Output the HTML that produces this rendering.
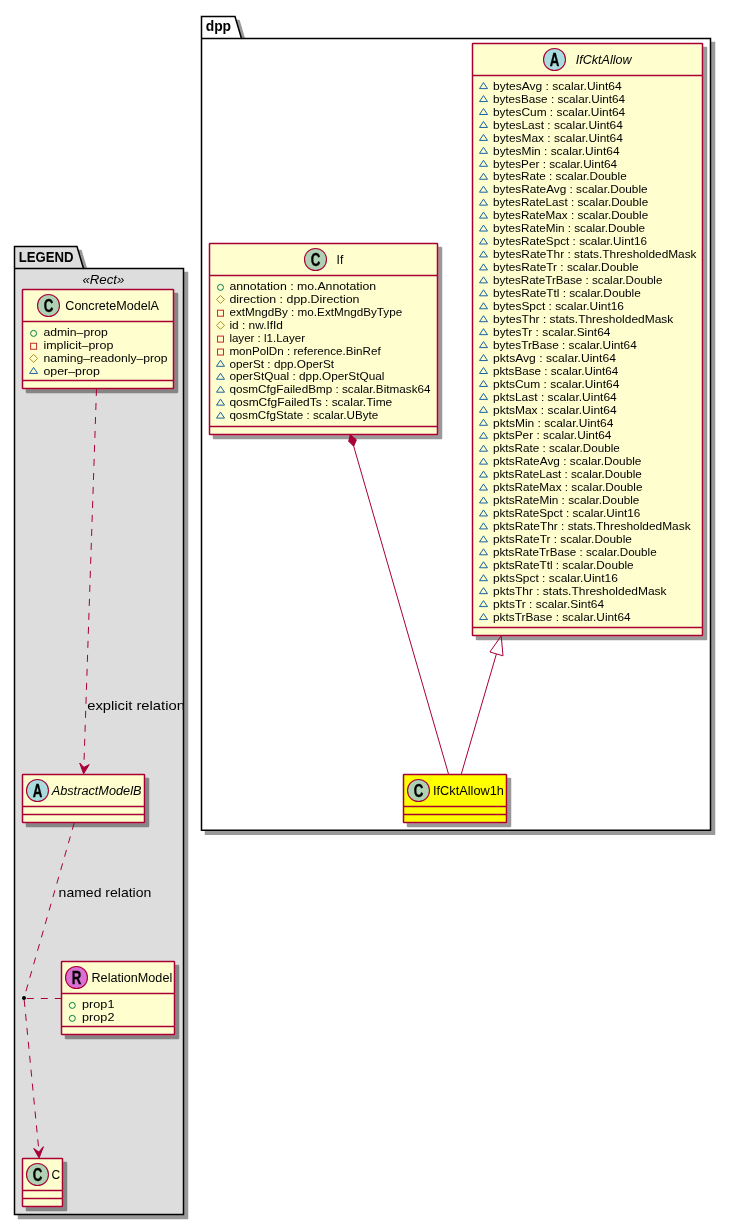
<!DOCTYPE html>
<html><head><meta charset="utf-8"><style>
html,body{margin:0;padding:0;background:#fff;}
svg{display:block;will-change:transform;font-family:"Liberation Sans", sans-serif;}
</style></head><body>
<svg width="731" height="1225" viewBox="0 0 731 1225">
<defs><filter id="sh" x="-20%" y="-20%" width="150%" height="150%">
<feGaussianBlur in="SourceAlpha" stdDeviation="0.7"/>
<feColorMatrix type="matrix" values="0 0 0 0 0  0 0 0 0 0  0 0 0 0 0  0 0 0 .4 0"/>
<feOffset dx="4" dy="4" result="s"/>
<feBlend in="SourceGraphic" in2="s" mode="normal"/>
</filter></defs>
<polygon points="201.5,16.5 235,16.5 241.5,38.5 710.5,38.5 710.5,830.3 201.5,830.3" fill="#FFFFFF" stroke="#000" stroke-width="1.5" filter="url(#sh)"/>
<line x1="201.5" y1="38.5" x2="241.5" y2="38.5" stroke="#000" stroke-width="1.5"/>
<text x="205.70" y="30.80" font-size="14" font-style="normal" font-weight="bold" fill="#000000" textLength="25.40" lengthAdjust="spacingAndGlyphs">dpp</text>
<polygon points="14.5,246.5 77,246.5 83.5,268.5 183.5,268.5 183.5,1214.5 14.5,1214.5" fill="#DDDDDD" stroke="#000" stroke-width="1.5" filter="url(#sh)"/>
<line x1="14.5" y1="268.5" x2="83.5" y2="268.5" stroke="#000" stroke-width="1.5"/>
<text x="18.70" y="261.60" font-size="14" font-style="normal" font-weight="bold" fill="#000000" textLength="54.84" lengthAdjust="spacingAndGlyphs">LEGEND</text>
<text x="82.40" y="283.60" font-size="13" font-style="italic" font-weight="normal" fill="#000000" textLength="42.03" lengthAdjust="spacingAndGlyphs">«Rect»</text>
<rect x="22.5" y="289.5" width="151.0" height="99.0" rx="0.5" ry="0.5" fill="#FEFECE" stroke="#A80036" stroke-width="1.5" filter="url(#sh)"/>
<line x1="22.5" y1="321.5" x2="173.5" y2="321.5" stroke="#A80036" stroke-width="1.5"/>
<line x1="22.5" y1="380.5" x2="173.5" y2="380.5" stroke="#A80036" stroke-width="1.5"/>
<circle cx="48.50" cy="305.50" r="11" fill="#ADD1B2" stroke="#A80036" stroke-width="1.1"/>
<text x="48.50" y="311.60" font-size="18" font-weight="bold" text-anchor="middle" fill="#000" stroke="#000" stroke-width="0.35" transform="translate(48.50,0) scale(0.74,1) translate(-48.50,0)">C</text>
<text x="65.30" y="310.20" font-size="12" font-style="normal" font-weight="normal" fill="#000000" textLength="93.68" lengthAdjust="spacingAndGlyphs">ConcreteModelA</text>
<circle cx="33.60" cy="333.40" r="3" fill="none" stroke="#038048" stroke-width="1"/>
<text x="43.40" y="335.80" font-size="11" font-style="normal" font-weight="normal" fill="#000000" textLength="64.40" lengthAdjust="spacingAndGlyphs">admin–prop</text>
<rect x="30.60" y="343.25" width="6" height="6" fill="none" stroke="#C82930" stroke-width="1"/>
<text x="43.40" y="348.75" font-size="11" font-style="normal" font-weight="normal" fill="#000000" textLength="70.01" lengthAdjust="spacingAndGlyphs">implicit–prop</text>
<polygon points="33.60,354.40 37.60,358.40 33.60,362.40 29.60,358.40" fill="none" stroke="#B38D22" stroke-width="1"/>
<text x="43.40" y="361.70" font-size="11" font-style="normal" font-weight="normal" fill="#000000" textLength="124.18" lengthAdjust="spacingAndGlyphs">naming–readonly–prop</text>
<polygon points="33.60,367.45 37.60,373.45 29.60,373.45" fill="none" stroke="#1963A0" stroke-width="1"/>
<text x="43.40" y="374.65" font-size="11" font-style="normal" font-weight="normal" fill="#000000" textLength="56.48" lengthAdjust="spacingAndGlyphs">oper–prop</text>
<rect x="22.5" y="774.5" width="122.0" height="48.0" rx="0.5" ry="0.5" fill="#FEFECE" stroke="#A80036" stroke-width="1.5" filter="url(#sh)"/>
<line x1="22.5" y1="806.5" x2="144.5" y2="806.5" stroke="#A80036" stroke-width="1.5"/>
<line x1="22.5" y1="814.5" x2="144.5" y2="814.5" stroke="#A80036" stroke-width="1.5"/>
<circle cx="37.50" cy="790.50" r="11" fill="#A9DCDF" stroke="#A80036" stroke-width="1.1"/>
<text x="37.50" y="796.60" font-size="18" font-weight="bold" text-anchor="middle" fill="#000" stroke="#000" stroke-width="0.35" transform="translate(37.50,0) scale(0.74,1) translate(-37.50,0)">A</text>
<text x="51.70" y="794.60" font-size="12" font-style="italic" font-weight="normal" fill="#000000" textLength="89.79" lengthAdjust="spacingAndGlyphs">AbstractModelB</text>
<rect x="61.5" y="961.5" width="113.0" height="73.0" rx="0.5" ry="0.5" fill="#FEFECE" stroke="#A80036" stroke-width="1.5" filter="url(#sh)"/>
<line x1="61.5" y1="993.5" x2="174.5" y2="993.5" stroke="#A80036" stroke-width="1.5"/>
<line x1="61.5" y1="1026.5" x2="174.5" y2="1026.5" stroke="#A80036" stroke-width="1.5"/>
<circle cx="76.50" cy="977.50" r="11" fill="#DA70D6" stroke="#A80036" stroke-width="1.1"/>
<text x="76.50" y="983.60" font-size="18" font-weight="bold" text-anchor="middle" fill="#000" stroke="#000" stroke-width="0.35" transform="translate(76.50,0) scale(0.74,1) translate(-76.50,0)">R</text>
<text x="91.50" y="981.80" font-size="12" font-style="normal" font-weight="normal" fill="#000000" textLength="80.71" lengthAdjust="spacingAndGlyphs">RelationModel</text>
<circle cx="72.30" cy="1005.40" r="3" fill="none" stroke="#038048" stroke-width="1"/>
<text x="82.10" y="1007.80" font-size="11" font-style="normal" font-weight="normal" fill="#000000" textLength="32.34" lengthAdjust="spacingAndGlyphs">prop1</text>
<circle cx="72.30" cy="1018.35" r="3" fill="none" stroke="#038048" stroke-width="1"/>
<text x="82.10" y="1020.75" font-size="11" font-style="normal" font-weight="normal" fill="#000000" textLength="32.34" lengthAdjust="spacingAndGlyphs">prop2</text>
<rect x="22.5" y="1158.5" width="40.0" height="48.0" rx="0.5" ry="0.5" fill="#FEFECE" stroke="#A80036" stroke-width="1.5" filter="url(#sh)"/>
<line x1="22.5" y1="1190.5" x2="62.5" y2="1190.5" stroke="#A80036" stroke-width="1.5"/>
<line x1="22.5" y1="1198.5" x2="62.5" y2="1198.5" stroke="#A80036" stroke-width="1.5"/>
<circle cx="37.50" cy="1174.50" r="11" fill="#ADD1B2" stroke="#A80036" stroke-width="1.1"/>
<text x="37.50" y="1180.60" font-size="18" font-weight="bold" text-anchor="middle" fill="#000" stroke="#000" stroke-width="0.35" transform="translate(37.50,0) scale(0.74,1) translate(-37.50,0)">C</text>
<text x="51.50" y="1178.60" font-size="12" font-style="normal" font-weight="normal" fill="#000000" textLength="8.67" lengthAdjust="spacingAndGlyphs">C</text>
<rect x="209.5" y="243.5" width="228.0" height="191.0" rx="0.5" ry="0.5" fill="#FEFECE" stroke="#A80036" stroke-width="1.5" filter="url(#sh)"/>
<line x1="209.5" y1="275.5" x2="437.5" y2="275.5" stroke="#A80036" stroke-width="1.5"/>
<line x1="209.5" y1="426.5" x2="437.5" y2="426.5" stroke="#A80036" stroke-width="1.5"/>
<circle cx="315.50" cy="259.50" r="11" fill="#ADD1B2" stroke="#A80036" stroke-width="1.1"/>
<text x="315.50" y="265.60" font-size="18" font-weight="bold" text-anchor="middle" fill="#000" stroke="#000" stroke-width="0.35" transform="translate(315.50,0) scale(0.74,1) translate(-315.50,0)">C</text>
<text x="336.60" y="263.80" font-size="12" font-style="normal" font-weight="normal" fill="#000000" textLength="6.67" lengthAdjust="spacingAndGlyphs">If</text>
<circle cx="220.50" cy="287.40" r="3" fill="none" stroke="#038048" stroke-width="1"/>
<text x="229.40" y="289.80" font-size="11" font-style="normal" font-weight="normal" fill="#000000" textLength="146.70" lengthAdjust="spacingAndGlyphs">annotation : mo.Annotation</text>
<polygon points="220.50,295.45 224.50,299.45 220.50,303.45 216.50,299.45" fill="none" stroke="#B38D22" stroke-width="1"/>
<text x="229.40" y="302.75" font-size="11" font-style="normal" font-weight="normal" fill="#000000" textLength="130.06" lengthAdjust="spacingAndGlyphs">direction : dpp.Direction</text>
<rect x="217.50" y="310.20" width="6" height="6" fill="none" stroke="#C82930" stroke-width="1"/>
<text x="229.40" y="315.70" font-size="11" font-style="normal" font-weight="normal" fill="#000000" textLength="172.83" lengthAdjust="spacingAndGlyphs">extMngdBy : mo.ExtMngdByType</text>
<polygon points="220.50,321.35 224.50,325.35 220.50,329.35 216.50,325.35" fill="none" stroke="#B38D22" stroke-width="1"/>
<text x="229.40" y="328.65" font-size="11" font-style="normal" font-weight="normal" fill="#000000" textLength="53.61" lengthAdjust="spacingAndGlyphs">id : nw.IfId</text>
<rect x="217.50" y="336.10" width="6" height="6" fill="none" stroke="#C82930" stroke-width="1"/>
<text x="229.40" y="341.60" font-size="11" font-style="normal" font-weight="normal" fill="#000000" textLength="75.63" lengthAdjust="spacingAndGlyphs">layer : l1.Layer</text>
<rect x="217.50" y="349.05" width="6" height="6" fill="none" stroke="#C82930" stroke-width="1"/>
<text x="229.40" y="354.55" font-size="11" font-style="normal" font-weight="normal" fill="#000000" textLength="151.31" lengthAdjust="spacingAndGlyphs">monPolDn : reference.BinRef</text>
<polygon points="220.50,360.30 224.50,366.30 216.50,366.30" fill="none" stroke="#1963A0" stroke-width="1"/>
<text x="229.40" y="367.50" font-size="11" font-style="normal" font-weight="normal" fill="#000000" textLength="104.69" lengthAdjust="spacingAndGlyphs">operSt : dpp.OperSt</text>
<polygon points="220.50,373.25 224.50,379.25 216.50,379.25" fill="none" stroke="#1963A0" stroke-width="1"/>
<text x="229.40" y="380.45" font-size="11" font-style="normal" font-weight="normal" fill="#000000" textLength="155.02" lengthAdjust="spacingAndGlyphs">operStQual : dpp.OperStQual</text>
<polygon points="220.50,386.20 224.50,392.20 216.50,392.20" fill="none" stroke="#1963A0" stroke-width="1"/>
<text x="229.40" y="393.40" font-size="11" font-style="normal" font-weight="normal" fill="#000000" textLength="201.14" lengthAdjust="spacingAndGlyphs">qosmCfgFailedBmp : scalar.Bitmask64</text>
<polygon points="220.50,399.15 224.50,405.15 216.50,405.15" fill="none" stroke="#1963A0" stroke-width="1"/>
<text x="229.40" y="406.35" font-size="11" font-style="normal" font-weight="normal" fill="#000000" textLength="162.89" lengthAdjust="spacingAndGlyphs">qosmCfgFailedTs : scalar.Time</text>
<polygon points="220.50,412.10 224.50,418.10 216.50,418.10" fill="none" stroke="#1963A0" stroke-width="1"/>
<text x="229.40" y="419.30" font-size="11" font-style="normal" font-weight="normal" fill="#000000" textLength="148.88" lengthAdjust="spacingAndGlyphs">qosmCfgState : scalar.UByte</text>
<rect x="472.5" y="43.5" width="230.0" height="592.0" rx="0.5" ry="0.5" fill="#FEFECE" stroke="#A80036" stroke-width="1.5" filter="url(#sh)"/>
<line x1="472.5" y1="75.5" x2="702.5" y2="75.5" stroke="#A80036" stroke-width="1.5"/>
<line x1="472.5" y1="627.5" x2="702.5" y2="627.5" stroke="#A80036" stroke-width="1.5"/>
<circle cx="554.50" cy="59.50" r="11" fill="#A9DCDF" stroke="#A80036" stroke-width="1.1"/>
<text x="554.50" y="65.60" font-size="18" font-weight="bold" text-anchor="middle" fill="#000" stroke="#000" stroke-width="0.35" transform="translate(554.50,0) scale(0.74,1) translate(-554.50,0)">A</text>
<text x="575.80" y="63.80" font-size="12" font-style="italic" font-weight="normal" fill="#000000" textLength="55.80" lengthAdjust="spacingAndGlyphs">IfCktAllow</text>
<polygon points="483.50,82.60 487.50,88.60 479.50,88.60" fill="none" stroke="#1963A0" stroke-width="1"/>
<text x="493.00" y="89.80" font-size="11" font-style="normal" font-weight="normal" fill="#000000" textLength="128.66" lengthAdjust="spacingAndGlyphs">bytesAvg : scalar.Uint64</text>
<polygon points="483.50,95.55 487.50,101.55 479.50,101.55" fill="none" stroke="#1963A0" stroke-width="1"/>
<text x="493.00" y="102.75" font-size="11" font-style="normal" font-weight="normal" fill="#000000" textLength="132.02" lengthAdjust="spacingAndGlyphs">bytesBase : scalar.Uint64</text>
<polygon points="483.50,108.50 487.50,114.50 479.50,114.50" fill="none" stroke="#1963A0" stroke-width="1"/>
<text x="493.00" y="115.70" font-size="11" font-style="normal" font-weight="normal" fill="#000000" textLength="132.24" lengthAdjust="spacingAndGlyphs">bytesCum : scalar.Uint64</text>
<polygon points="483.50,121.45 487.50,127.45 479.50,127.45" fill="none" stroke="#1963A0" stroke-width="1"/>
<text x="493.00" y="128.65" font-size="11" font-style="normal" font-weight="normal" fill="#000000" textLength="129.85" lengthAdjust="spacingAndGlyphs">bytesLast : scalar.Uint64</text>
<polygon points="483.50,134.40 487.50,140.40 479.50,140.40" fill="none" stroke="#1963A0" stroke-width="1"/>
<text x="493.00" y="141.60" font-size="11" font-style="normal" font-weight="normal" fill="#000000" textLength="129.85" lengthAdjust="spacingAndGlyphs">bytesMax : scalar.Uint64</text>
<polygon points="483.50,147.35 487.50,153.35 479.50,153.35" fill="none" stroke="#1963A0" stroke-width="1"/>
<text x="493.00" y="154.55" font-size="11" font-style="normal" font-weight="normal" fill="#000000" textLength="126.56" lengthAdjust="spacingAndGlyphs">bytesMin : scalar.Uint64</text>
<polygon points="483.50,160.30 487.50,166.30 479.50,166.30" fill="none" stroke="#1963A0" stroke-width="1"/>
<text x="493.00" y="167.50" font-size="11" font-style="normal" font-weight="normal" fill="#000000" textLength="124.11" lengthAdjust="spacingAndGlyphs">bytesPer : scalar.Uint64</text>
<polygon points="483.50,173.25 487.50,179.25 479.50,179.25" fill="none" stroke="#1963A0" stroke-width="1"/>
<text x="493.00" y="180.45" font-size="11" font-style="normal" font-weight="normal" fill="#000000" textLength="133.74" lengthAdjust="spacingAndGlyphs">bytesRate : scalar.Double</text>
<polygon points="483.50,186.20 487.50,192.20 479.50,192.20" fill="none" stroke="#1963A0" stroke-width="1"/>
<text x="493.00" y="193.40" font-size="11" font-style="normal" font-weight="normal" fill="#000000" textLength="154.60" lengthAdjust="spacingAndGlyphs">bytesRateAvg : scalar.Double</text>
<polygon points="483.50,199.15 487.50,205.15 479.50,205.15" fill="none" stroke="#1963A0" stroke-width="1"/>
<text x="493.00" y="206.35" font-size="11" font-style="normal" font-weight="normal" fill="#000000" textLength="155.17" lengthAdjust="spacingAndGlyphs">bytesRateLast : scalar.Double</text>
<polygon points="483.50,212.10 487.50,218.10 479.50,218.10" fill="none" stroke="#1963A0" stroke-width="1"/>
<text x="493.00" y="219.30" font-size="11" font-style="normal" font-weight="normal" fill="#000000" textLength="155.17" lengthAdjust="spacingAndGlyphs">bytesRateMax : scalar.Double</text>
<polygon points="483.50,225.05 487.50,231.05 479.50,231.05" fill="none" stroke="#1963A0" stroke-width="1"/>
<text x="493.00" y="232.25" font-size="11" font-style="normal" font-weight="normal" fill="#000000" textLength="152.10" lengthAdjust="spacingAndGlyphs">bytesRateMin : scalar.Double</text>
<polygon points="483.50,238.00 487.50,244.00 479.50,244.00" fill="none" stroke="#1963A0" stroke-width="1"/>
<text x="493.00" y="245.20" font-size="11" font-style="normal" font-weight="normal" fill="#000000" textLength="154.00" lengthAdjust="spacingAndGlyphs">bytesRateSpct : scalar.Uint16</text>
<polygon points="483.50,250.95 487.50,256.95 479.50,256.95" fill="none" stroke="#1963A0" stroke-width="1"/>
<text x="493.00" y="258.15" font-size="11" font-style="normal" font-weight="normal" fill="#000000" textLength="203.55" lengthAdjust="spacingAndGlyphs">bytesRateThr : stats.ThresholdedMask</text>
<polygon points="483.50,263.90 487.50,269.90 479.50,269.90" fill="none" stroke="#1963A0" stroke-width="1"/>
<text x="493.00" y="271.10" font-size="11" font-style="normal" font-weight="normal" fill="#000000" textLength="145.61" lengthAdjust="spacingAndGlyphs">bytesRateTr : scalar.Double</text>
<polygon points="483.50,276.85 487.50,282.85 479.50,282.85" fill="none" stroke="#1963A0" stroke-width="1"/>
<text x="493.00" y="284.05" font-size="11" font-style="normal" font-weight="normal" fill="#000000" textLength="169.43" lengthAdjust="spacingAndGlyphs">bytesRateTrBase : scalar.Double</text>
<polygon points="483.50,289.80 487.50,295.80 479.50,295.80" fill="none" stroke="#1963A0" stroke-width="1"/>
<text x="493.00" y="297.00" font-size="11" font-style="normal" font-weight="normal" fill="#000000" textLength="147.82" lengthAdjust="spacingAndGlyphs">bytesRateTtl : scalar.Double</text>
<polygon points="483.50,302.75 487.50,308.75 479.50,308.75" fill="none" stroke="#1963A0" stroke-width="1"/>
<text x="493.00" y="309.95" font-size="11" font-style="normal" font-weight="normal" fill="#000000" textLength="130.95" lengthAdjust="spacingAndGlyphs">bytesSpct : scalar.Uint16</text>
<polygon points="483.50,315.70 487.50,321.70 479.50,321.70" fill="none" stroke="#1963A0" stroke-width="1"/>
<text x="493.00" y="322.90" font-size="11" font-style="normal" font-weight="normal" fill="#000000" textLength="180.30" lengthAdjust="spacingAndGlyphs">bytesThr : stats.ThresholdedMask</text>
<polygon points="483.50,328.65 487.50,334.65 479.50,334.65" fill="none" stroke="#1963A0" stroke-width="1"/>
<text x="493.00" y="335.85" font-size="11" font-style="normal" font-weight="normal" fill="#000000" textLength="117.42" lengthAdjust="spacingAndGlyphs">bytesTr : scalar.Sint64</text>
<polygon points="483.50,341.60 487.50,347.60 479.50,347.60" fill="none" stroke="#1963A0" stroke-width="1"/>
<text x="493.00" y="348.80" font-size="11" font-style="normal" font-weight="normal" fill="#000000" textLength="143.70" lengthAdjust="spacingAndGlyphs">bytesTrBase : scalar.Uint64</text>
<polygon points="483.50,354.55 487.50,360.55 479.50,360.55" fill="none" stroke="#1963A0" stroke-width="1"/>
<text x="493.00" y="361.75" font-size="11" font-style="normal" font-weight="normal" fill="#000000" textLength="122.93" lengthAdjust="spacingAndGlyphs">pktsAvg : scalar.Uint64</text>
<polygon points="483.50,367.50 487.50,373.50 479.50,373.50" fill="none" stroke="#1963A0" stroke-width="1"/>
<text x="493.00" y="374.70" font-size="11" font-style="normal" font-weight="normal" fill="#000000" textLength="125.27" lengthAdjust="spacingAndGlyphs">pktsBase : scalar.Uint64</text>
<polygon points="483.50,380.45 487.50,386.45 479.50,386.45" fill="none" stroke="#1963A0" stroke-width="1"/>
<text x="493.00" y="387.65" font-size="11" font-style="normal" font-weight="normal" fill="#000000" textLength="126.29" lengthAdjust="spacingAndGlyphs">pktsCum : scalar.Uint64</text>
<polygon points="483.50,393.40 487.50,399.40 479.50,399.40" fill="none" stroke="#1963A0" stroke-width="1"/>
<text x="493.00" y="400.60" font-size="11" font-style="normal" font-weight="normal" fill="#000000" textLength="123.70" lengthAdjust="spacingAndGlyphs">pktsLast : scalar.Uint64</text>
<polygon points="483.50,406.35 487.50,412.35 479.50,412.35" fill="none" stroke="#1963A0" stroke-width="1"/>
<text x="493.00" y="413.55" font-size="11" font-style="normal" font-weight="normal" fill="#000000" textLength="123.68" lengthAdjust="spacingAndGlyphs">pktsMax : scalar.Uint64</text>
<polygon points="483.50,419.30 487.50,425.30 479.50,425.30" fill="none" stroke="#1963A0" stroke-width="1"/>
<text x="493.00" y="426.50" font-size="11" font-style="normal" font-weight="normal" fill="#000000" textLength="120.41" lengthAdjust="spacingAndGlyphs">pktsMin : scalar.Uint64</text>
<polygon points="483.50,432.25 487.50,438.25 479.50,438.25" fill="none" stroke="#1963A0" stroke-width="1"/>
<text x="493.00" y="439.45" font-size="11" font-style="normal" font-weight="normal" fill="#000000" textLength="118.37" lengthAdjust="spacingAndGlyphs">pktsPer : scalar.Uint64</text>
<polygon points="483.50,445.20 487.50,451.20 479.50,451.20" fill="none" stroke="#1963A0" stroke-width="1"/>
<text x="493.00" y="452.40" font-size="11" font-style="normal" font-weight="normal" fill="#000000" textLength="126.78" lengthAdjust="spacingAndGlyphs">pktsRate : scalar.Double</text>
<polygon points="483.50,458.15 487.50,464.15 479.50,464.15" fill="none" stroke="#1963A0" stroke-width="1"/>
<text x="493.00" y="465.35" font-size="11" font-style="normal" font-weight="normal" fill="#000000" textLength="148.45" lengthAdjust="spacingAndGlyphs">pktsRateAvg : scalar.Double</text>
<polygon points="483.50,471.10 487.50,477.10 479.50,477.10" fill="none" stroke="#1963A0" stroke-width="1"/>
<text x="493.00" y="478.30" font-size="11" font-style="normal" font-weight="normal" fill="#000000" textLength="148.84" lengthAdjust="spacingAndGlyphs">pktsRateLast : scalar.Double</text>
<polygon points="483.50,484.05 487.50,490.05 479.50,490.05" fill="none" stroke="#1963A0" stroke-width="1"/>
<text x="493.00" y="491.25" font-size="11" font-style="normal" font-weight="normal" fill="#000000" textLength="149.43" lengthAdjust="spacingAndGlyphs">pktsRateMax : scalar.Double</text>
<polygon points="483.50,497.00 487.50,503.00 479.50,503.00" fill="none" stroke="#1963A0" stroke-width="1"/>
<text x="493.00" y="504.20" font-size="11" font-style="normal" font-weight="normal" fill="#000000" textLength="146.35" lengthAdjust="spacingAndGlyphs">pktsRateMin : scalar.Double</text>
<polygon points="483.50,509.95 487.50,515.95 479.50,515.95" fill="none" stroke="#1963A0" stroke-width="1"/>
<text x="493.00" y="517.15" font-size="11" font-style="normal" font-weight="normal" fill="#000000" textLength="147.27" lengthAdjust="spacingAndGlyphs">pktsRateSpct : scalar.Uint16</text>
<polygon points="483.50,522.90 487.50,528.90 479.50,528.90" fill="none" stroke="#1963A0" stroke-width="1"/>
<text x="493.00" y="530.10" font-size="11" font-style="normal" font-weight="normal" fill="#000000" textLength="197.59" lengthAdjust="spacingAndGlyphs">pktsRateThr : stats.ThresholdedMask</text>
<polygon points="483.50,535.85 487.50,541.85 479.50,541.85" fill="none" stroke="#1963A0" stroke-width="1"/>
<text x="493.00" y="543.05" font-size="11" font-style="normal" font-weight="normal" fill="#000000" textLength="138.85" lengthAdjust="spacingAndGlyphs">pktsRateTr : scalar.Double</text>
<polygon points="483.50,548.80 487.50,554.80 479.50,554.80" fill="none" stroke="#1963A0" stroke-width="1"/>
<text x="493.00" y="556.00" font-size="11" font-style="normal" font-weight="normal" fill="#000000" textLength="163.69" lengthAdjust="spacingAndGlyphs">pktsRateTrBase : scalar.Double</text>
<polygon points="483.50,561.75 487.50,567.75 479.50,567.75" fill="none" stroke="#1963A0" stroke-width="1"/>
<text x="493.00" y="568.95" font-size="11" font-style="normal" font-weight="normal" fill="#000000" textLength="140.66" lengthAdjust="spacingAndGlyphs">pktsRateTtl : scalar.Double</text>
<polygon points="483.50,574.70 487.50,580.70 479.50,580.70" fill="none" stroke="#1963A0" stroke-width="1"/>
<text x="493.00" y="581.90" font-size="11" font-style="normal" font-weight="normal" fill="#000000" textLength="124.80" lengthAdjust="spacingAndGlyphs">pktsSpct : scalar.Uint16</text>
<polygon points="483.50,587.65 487.50,593.65 479.50,593.65" fill="none" stroke="#1963A0" stroke-width="1"/>
<text x="493.00" y="594.85" font-size="11" font-style="normal" font-weight="normal" fill="#000000" textLength="173.53" lengthAdjust="spacingAndGlyphs">pktsThr : stats.ThresholdedMask</text>
<polygon points="483.50,600.60 487.50,606.60 479.50,606.60" fill="none" stroke="#1963A0" stroke-width="1"/>
<text x="493.00" y="607.80" font-size="11" font-style="normal" font-weight="normal" fill="#000000" textLength="111.09" lengthAdjust="spacingAndGlyphs">pktsTr : scalar.Sint64</text>
<polygon points="483.50,613.55 487.50,619.55 479.50,619.55" fill="none" stroke="#1963A0" stroke-width="1"/>
<text x="493.00" y="620.75" font-size="11" font-style="normal" font-weight="normal" fill="#000000" textLength="137.55" lengthAdjust="spacingAndGlyphs">pktsTrBase : scalar.Uint64</text>
<rect x="403.5" y="774.5" width="103.0" height="48.0" rx="0.5" ry="0.5" fill="#FFFF00" stroke="#A80036" stroke-width="1.5" filter="url(#sh)"/>
<line x1="403.5" y1="806.5" x2="506.5" y2="806.5" stroke="#A80036" stroke-width="1.5"/>
<line x1="403.5" y1="814.5" x2="506.5" y2="814.5" stroke="#A80036" stroke-width="1.5"/>
<circle cx="418.50" cy="790.50" r="11" fill="#ADD1B2" stroke="#A80036" stroke-width="1.1"/>
<text x="418.50" y="796.60" font-size="18" font-weight="bold" text-anchor="middle" fill="#000" stroke="#000" stroke-width="0.35" transform="translate(418.50,0) scale(0.74,1) translate(-418.50,0)">C</text>
<text x="433.00" y="795.00" font-size="12" font-style="normal" font-weight="normal" fill="#000000" textLength="70.91" lengthAdjust="spacingAndGlyphs">IfCktAllow1h</text>
<path d="M96.5,389 L83.8,768" fill="none" stroke="#A80036" stroke-width="1" stroke-dasharray="7,7"/>
<polygon points="83.6,773.8 79.7,763 83.9,767.4 89.2,764.6" fill="#A80036" stroke="#A80036" stroke-width="1"/>
<text x="87.20" y="710.00" font-size="13" font-style="normal" font-weight="normal" fill="#000000" textLength="97.70" lengthAdjust="spacingAndGlyphs">explicit relation</text>
<path d="M74.2,823 L24,998" fill="none" stroke="#A80036" stroke-width="1" stroke-dasharray="7,7"/>
<text x="58.60" y="896.60" font-size="13" font-style="normal" font-weight="normal" fill="#000000" textLength="92.71" lengthAdjust="spacingAndGlyphs">named relation</text>
<path d="M24.2,1000 L38.9,1151" fill="none" stroke="#A80036" stroke-width="1" stroke-dasharray="7,7"/>
<polygon points="39.1,1158 33.7,1148.5 38.9,1152 43.4,1146.7" fill="#A80036" stroke="#A80036" stroke-width="1"/>
<path d="M26.8,998.5 L61.5,998.5" fill="none" stroke="#A80036" stroke-width="1" stroke-dasharray="7,7"/>
<circle cx="24" cy="998" r="2" fill="#000"/>
<polygon points="350.3,434.6 348.7,441.3 353.7,446.3 356.4,439.8" fill="#A80036" stroke="#A80036" stroke-width="1"/>
<path d="M353.70,446.30 L448.5,774" fill="none" stroke="#A80036" stroke-width="1"/>
<polygon points="501.2,635.8 489.9,652 503,655.8" fill="none" stroke="#A80036" stroke-width="1"/>
<path d="M496.40,654.00 L461.3,774" fill="none" stroke="#A80036" stroke-width="1"/>
</svg>
</body></html>
